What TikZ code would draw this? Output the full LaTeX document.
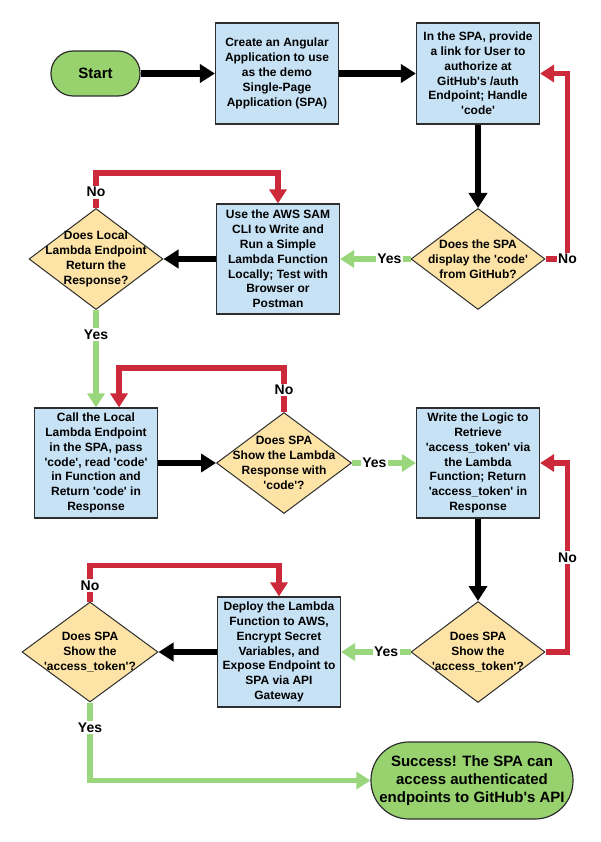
\documentclass[tikz,border=0pt]{standalone}
\usepackage{fontspec}
\newfontfamily\lsans{Liberation Sans}
\usetikzlibrary{shapes.geometric,arrows.meta}
\definecolor{boxfill}{HTML}{C7E2F5}
\definecolor{diafill}{HTML}{FDE4A6}
\definecolor{termfill}{HTML}{97D26F}
\definecolor{redln}{HTML}{CC2A3A}
\definecolor{greenln}{HTML}{9AD67B}
\definecolor{edge}{HTML}{2E2E2E}
\tikzset{
  box/.style={draw=edge, line width=1.2pt, fill=boxfill, minimum width=123pt, minimum height=101pt,
    inner sep=2pt, align=center, font=\lsans\bfseries\fontsize{12}{14.8}\selectfont},
  tallbox/.style={box, minimum height=110pt},
  dia/.style={draw=edge, line width=1pt, fill=diafill, diamond, minimum width=134pt, minimum height=101pt, inner sep=0pt},
  diatext/.style={align=center, inner sep=0pt, font=\lsans\bfseries\fontsize{12}{14.8}\selectfont},
  term/.style={draw=edge, line width=1.2pt, fill=termfill, align=center, inner sep=0pt,
    font=\lsans\bfseries\fontsize{15}{18}\selectfont},
  blk/.style={draw=black, line width=6.5pt, -{Triangle[length=15pt,width=18pt]}},
  redarrow/.style={draw=redln, line width=5.5pt, -{Triangle[length=14pt,width=17pt]}},
  grn/.style={draw=greenln, line width=5.5pt, -{Triangle[length=14pt,width=17pt]}},
  lbl/.style={fill=white, inner sep=1.5pt, text=black, font=\lsans\bfseries\fontsize{14}{16}\selectfont},
}
\begin{document}
\begin{tikzpicture}[x=1pt,y=-1pt]
\fill[white] (0,0) rectangle (600,842);
\useasboundingbox (0,0) rectangle (600,842);

% row 1
\node[term, rounded corners=22pt, minimum width=89pt, minimum height=45pt] (start) at (95.5,73.5) {Start};
\node[box] (b1) at (277,73.5) {Create an Angular\\Application to use\\as the demo\\Single-Page\\Application (SPA)};
\node[box] (b2) at (478,73.5) {In the SPA, provide\\a link for User to\\authorize at\\GitHub's /auth\\Endpoint; Handle\\'code'};

% row 2
\node[dia] (d1) at (478,259) {};
\node[diatext] (d1t) at (d1) {Does the SPA\\display the 'code'\\from GitHub?};
\node[tallbox] (b3) at (278,259) {Use the AWS SAM\\CLI to Write and\\Run a Simple\\Lambda Function\\Locally; Test with\\Browser or\\Postman};
\node[dia] (d2) at (96,259) {};
\node[diatext] (d2t) at (d2) {Does Local\\Lambda Endpoint\\Return the\\Response?};

% row 3
\node[tallbox] (b4) at (96,463) {Call the Local\\Lambda Endpoint\\in the SPA, pass\\'code', read 'code'\\in Function and\\Return 'code' in\\Response};
\node[dia, minimum width=135pt] (d3) at (284,463) {};
\node[diatext] (d3t) at (d3) {Does SPA\\Show the Lambda\\Response with\\'code'?};
\node[tallbox] (b5) at (478,463) {Write the Logic to\\Retrieve\\'access\_token' via\\the Lambda\\Function; Return\\'access\_token' in\\Response};

% row 4
\node[dia] (d4) at (478,652) {};
\node[diatext] (d4t) at (d4) {Does SPA\\Show the\\'access\_token'?};
\node[tallbox] (b6) at (279,652) {Deploy the Lambda\\Function to AWS,\\Encrypt Secret\\Variables, and\\Expose Endpoint to\\SPA via API\\Gateway};
\node[dia, minimum width=136pt, minimum height=100pt] (d5) at (90,652) {};
\node[diatext] (d5t) at (d5) {Does SPA\\Show the\\'access\_token'?};

% end
\node[term, rounded corners=38pt, minimum width=202pt, minimum height=77pt] (succ) at (472,780.5)
  {Success! The SPA can\\access authenticated\\endpoints to GitHub's API};

% connectors
\draw[blk] (start) -- (b1);
\draw[blk] (b1) -- (b2);
\draw[blk] (b2.south) -- (d1.north);
\draw[redarrow] (d1.east) -- ++(22,0) node[lbl] {No} |- (b2.east);
\draw[grn] (d1.west) -- node[lbl,pos=0.3] {Yes} (b3.east);
\draw[blk] (b3.west) -- (d2.east);
\draw[redarrow] (d2.north) -- node[lbl,pos=0.45] {No} ++(0,-35) -| (b3.north);
\draw[grn] (d2.south) -- node[lbl,pos=0.25] {Yes} (b4.north);
\draw[blk] (b4.east) -- (d3.west);
\draw[redarrow] (d3.north) -- node[lbl,pos=0.5] {No} ++(0,-44) -| ([xshift=23pt]b4.north);
\draw[grn] (d3.east) -- node[lbl,pos=0.35] {Yes} (b5.west);
\draw[blk] (b5.south) -- (d4.north);
\draw[redarrow] (d4.east) -- ++(22,0) |- node[lbl,pos=0.25] {No} (b5.east);
\draw[grn] (d4.west) -- node[lbl,pos=0.35] {Yes} (b6.east);
\draw[blk] (b6.west) -- (d5.east);
\draw[redarrow] (d5.north) -- node[lbl,pos=0.45] {No} ++(0,-36) -| (b6.north);
\draw[grn] (d5.south) |- node[lbl,pos=0.16] {Yes} (succ.west);
\end{tikzpicture}
\end{document}
